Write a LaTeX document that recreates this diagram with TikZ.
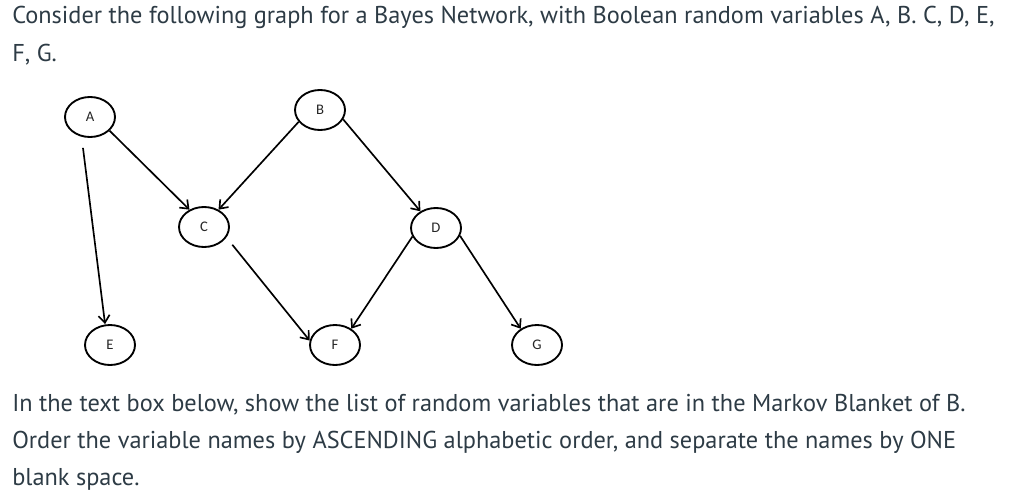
\documentclass[tikz,border=0pt]{standalone}
\usepackage{fontspec}
\setmainfont{PT Sans}
\newfontfamily\letterfont{Carlito}
\usepackage{xcolor}
\usetikzlibrary{positioning,arrows.meta,shapes.geometric}
\definecolor{canvastext}{HTML}{2D3B45}

\begin{document}
\begin{tikzpicture}[x=0.75pt,y=-0.75pt,>={Straight Barb[length=5.5pt,width=8.5pt]},
  rv/.style={ellipse,draw,line width=1.4pt,minimum width=37.5pt,minimum height=30pt,
    inner sep=0pt,font=\letterfont\fontsize{11}{13}\selectfont,text=black!85},
  edge/.style={->,line width=1.25pt},
  para/.style={anchor=base west,inner sep=0pt,text=canvastext,font=\fontsize{18.25}{22}\selectfont}]
\useasboundingbox (0,0) rectangle (1024,500);
% question text
\node[para] (q1) at (12,23) {Consider the following graph for a Bayes Network, with Boolean random variables A, B. C, D, E,};
\node[para] (q2) at (12,61) {F, G.};
% network
\node[rv] (A) at (90,117) {A};
\node[rv] (B) at (320,110) {B};
\node[rv] (C) at (204,227) {C};
\node[rv] (D) at (436,228) {D};
\node[rv] (E) at (110,345) {E};
\node[rv] (F) at (335,345) {F};
\node[rv] (G) at (537,345) {G};
\draw[edge,shorten <=7.5pt] ([xshift=-6.2pt]A.south) -- ([xshift=-3.7pt]E.north);
\draw[edge] (A.-35) -- (C.130);
\draw[edge] (B.209) -- (C.50);
\draw[edge] (B.-22) -- (D.133);
\draw[edge,shorten <=7pt] (C.-25) -- (F.170);
\draw[edge] (D.200) -- (F.45);
\draw[edge] (D.-18) -- (G.135);
% instructions
\node[para] (i1) at (12,411) {In the text box below,  show the list of random variables that are in the Markov Blanket of B.};
\node[para] (i2) at (12,448) {Order the variable names by ASCENDING alphabetic order, and separate the names by ONE};
\node[para] (i3) at (12,485) {blank space.};
\end{tikzpicture}
\end{document}
